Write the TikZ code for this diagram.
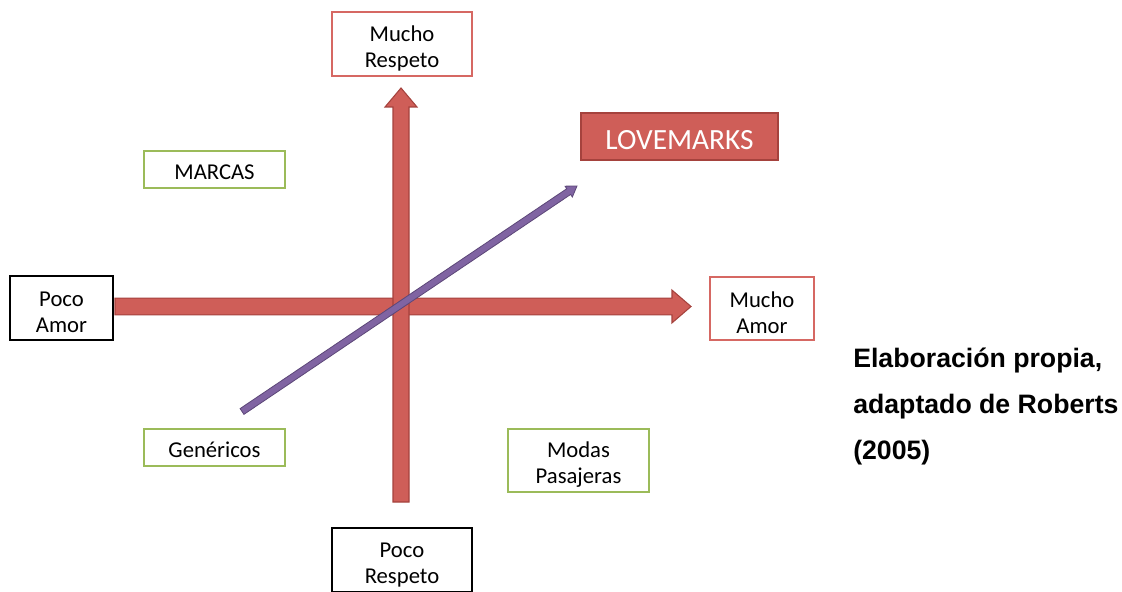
\documentclass[tikz,border=0pt]{standalone}
\usepackage{fontspec}
\setmainfont{Carlito}
\newfontfamily\notefont{Liberation Sans}
\usepackage{tikz}
\usetikzlibrary{calc}

\definecolor{axisred}{RGB}{207,94,88}
\definecolor{axisredline}{RGB}{165,66,61}
\definecolor{boxred}{RGB}{214,104,99}
\definecolor{boxgreen}{RGB}{155,187,89}
\definecolor{diagpurple}{RGB}{128,100,162}
\definecolor{diagpurpleline}{RGB}{92,71,120}

% style, tail, tip, half shaft, half head, head length
\newcommand{\fatarrow}[6]{%
\coordinate (fa-base) at ($(#3)!#6!(#2)$);
\filldraw [#1] ($(#2)!#4!90:(#3)$) -- ($(fa-base)!#4!90:(#3)$) -- ($(fa-base)!#5!90:(#3)$) -- (#3)
  -- ($(fa-base)!#5!-90:(#3)$) -- ($(fa-base)!#4!-90:(#3)$) -- ($(#2)!#4!-90:(#3)$) -- cycle;}
\newcommand{\up}{\rule{0pt}{1.05em}}

\begin{document}
\begin{tikzpicture}[x=0.75pt, y=-0.75pt,
  label/.style={inner sep=0pt, align=center, line width=1.5pt, font=\fontsize{17pt}{19.5pt}\selectfont},
  redbox/.style={label, draw=boxred},
  greenbox/.style={label, draw=boxgreen},
  blackbox/.style={label, draw=black}]
\useasboundingbox (0,0) rectangle (1122,592);

\node [redbox, minimum width=105pt, minimum height=48pt] (mrespeto) at (402,44) {\up Mucho\\Respeto};
\node [blackbox, minimum width=105pt, minimum height=48pt] (prespeto) at (402,560) {\up Poco\\Respeto};
\node [blackbox, minimum width=77.25pt, minimum height=48pt] (pamor) at (61.5,308) {\up Poco\\Amor};
\node [redbox, minimum width=78pt, minimum height=47.25pt] (mamor) at (762,308.5) {\up Mucho\\Amor};
\node [greenbox, minimum width=105.75pt, minimum height=27.75pt] (marcas) at (214.5,169.5) {\rule{0pt}{0.9em}MARCAS};
\node [greenbox, minimum width=105.75pt, minimum height=27.75pt] (genericos) at (214.5,447) {\rule{0pt}{0.9em}Genéricos};
\node [greenbox, minimum width=105.75pt, minimum height=47.25pt] (modas) at (578.5,460.5) {\up Modas\\Pasajeras};
\node [label, fill=axisred, draw=axisredline, text=white, font=\fontsize{22pt}{26pt}\selectfont,
  minimum width=147.75pt, minimum height=35.25pt] (love) at (679.5,136.5) {\rule{0pt}{0.9em}LOVEMARKS};

\node [anchor=north west, inner sep=0pt, align=left, font=\notefont\bfseries\fontsize{20pt}{34.5pt}\selectfont]
  (nota) at (853,348) {Elaboración propia,\\adaptado de Roberts\\(2005)};

\coordinate (resp-low) at (401,502);
\coordinate (resp-high) at (401,88);
\coordinate (amor-low) at (115,306.5);
\coordinate (amor-high) at (691,306.5);
\coordinate (gen-end) at (242,411.5);
\coordinate (love-end) at (577,186);

\fatarrow{fill=axisred, draw=axisredline, line width=0.8pt}{amor-low}{amor-high}{6.3pt}{12.3pt}{14.25pt}
\fatarrow{fill=axisred, draw=axisredline, line width=0.8pt}{resp-low}{resp-high}{6pt}{12pt}{14.25pt}
\fatarrow{fill=diagpurple, draw=diagpurpleline, line width=0.6pt}{gen-end}{love-end}{2.6pt}{4.9pt}{7.5pt}
\end{tikzpicture}
\end{document}
